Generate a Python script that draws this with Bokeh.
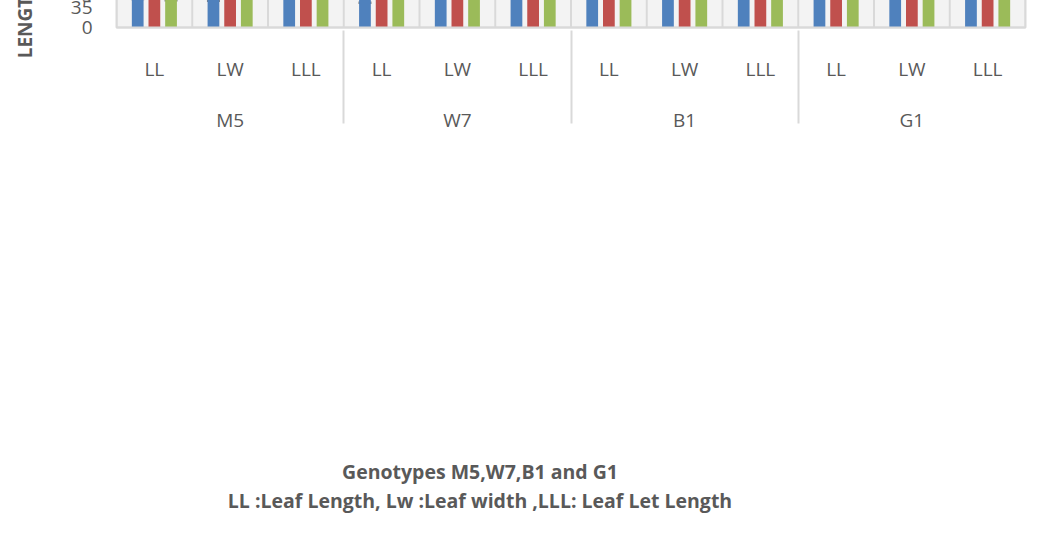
from bokeh.plotting import figure
from bokeh.layouts import column
from bokeh.models import (ColumnDataSource, FactorRange, Range1d, FixedTicker, Whisker, TeeHead,
                          Legend, LegendItem, Div)
from bokeh.transform import dodge
from bokeh.embed import file_html
from bokeh.resources import INLINE

genotypes = ["M5", "W7", "B1", "G1"]
traits = ["LL", "LW", "LLL"]
series_names = ["Dose 0", "Dose 300", "Dose 400"]

dose0 = [6.0, 5.8, 20.0, 5.8, 7.3, 25.8, 9.9, 6.6, 20.6, 7.9, 6.8, 21.4]
dose300 = [9.7, 8.0, 21.2, 9.8, 7.0, 20.9, 12.6, 6.8, 21.3, 12.1, 7.2, 24.0]
dose400 = [6.7, 7.2, 18.5, 8.0, 7.7, 24.2, 11.0, 7.2, 21.6, 10.3, 6.8, 22.6]

err0 = [1.5, 1.6, 3.4, 1.9, 1.1, 5.6, 0.9, 0.8, 2.0, 2.1, 0.9, 2.9]
err300 = [1.6, 1.1, 3.5, 1.7, 1.3, 3.7, 2.6, 0.9, 3.3, 1.9, 1.6, 4.7]
err400 = [2.4, 1.0, 3.8, 1.6, 0.9, 4.3, 1.4, 1.0, 2.8, 2.0, 0.9, 4.5]

y_ticks = [0, 5, 10, 15, 20, 25, 30, 35]
title_lines = ["Genotypes M5,W7,B1 and G1",
               "LL :Leaf Length, Lw :Leaf width ,LLL: Leaf Let Length"]

colors = ["#4F81BD", "#C0504D", "#9BBB59"]
TEXT = "#595959"
GRID = "#D9D9D9"
FONT = "Open Sans"

factors = [(g, t) for g in genotypes for t in traits]

data = dict(x=list(factors))
for k, (vals, errs) in enumerate([(dose0, err0), (dose300, err300), (dose400, err400)]):
    data[f"v{k}"] = vals
    data[f"up{k}"] = [v + e for v, e in zip(vals, errs)]
    data[f"lo{k}"] = [v - e for v, e in zip(vals, errs)]
src = ColumnDataSource(data)

YMAX = 35

p = figure(width=1035, height=437,
           x_range=FactorRange(*factors, factor_padding=0, group_padding=0,
                               subgroup_padding=0, range_padding=0),
           y_range=Range1d(0, YMAX),
           output_backend="svg", toolbar_location=None,
           min_border_left=116, min_border_right=10, min_border_top=27)
p.xgrid.visible = False
p.outline_line_color = GRID
p.outline_line_width = 2
p.background_fill_color = "#F3F3F3"
p.border_fill_color = "white"

p.ygrid.ticker = FixedTicker(ticks=y_ticks)
p.ygrid.grid_line_color = GRID
p.ygrid.grid_line_width = 2

# vertical category boundaries drawn as thin bars
cat_src = ColumnDataSource(dict(x=list(factors)))
last_src = ColumnDataSource(dict(x=[factors[-1]]))
for s, off in [(cat_src, -0.5), (last_src, 0.5)]:
    p.vbar(x=dodge("x", off, range=p.x_range), bottom=0, top=YMAX, width=0.026,
           source=s, fill_color=GRID, line_color=None)

offsets = [-0.22, 0.0, 0.22]
items = []
for k in range(3):
    r = p.vbar(x=dodge("x", offsets[k], range=p.x_range), top=f"v{k}", width=0.155,
               source=src, fill_color=colors[k], line_color=None)
    items.append(LegendItem(label=series_names[k], renderers=[r]))
    w = Whisker(source=src, base=dodge("x", offsets[k], range=p.x_range),
                upper=f"up{k}", lower=f"lo{k}", line_color="#7F7F7F", line_width=2.5,
                upper_head=TeeHead(size=13, line_color="#7F7F7F", line_width=2.5),
                lower_head=TeeHead(size=13, line_color="#7F7F7F", line_width=2.5))
    p.add_layout(w)

xa = p.xaxis[0]
xa.axis_line_color = GRID
xa.axis_line_width = 2
xa.major_tick_line_color = None
xa.minor_tick_line_color = None
xa.major_label_standoff = 22
xa.major_label_text_font = FONT
xa.major_label_text_font_size = "19px"
xa.major_label_text_color = TEXT
xa.group_text_font = FONT
xa.group_text_font_size = "19px"
xa.group_text_color = TEXT
xa.group_text_font_style = "normal"
xa.separator_line_color = GRID
xa.separator_line_width = 2

ax = p.yaxis[0]
ax.ticker = FixedTicker(ticks=y_ticks)
ax.axis_line_color = None
ax.major_tick_line_color = None
ax.minor_tick_line_color = None
ax.major_tick_out = 0
ax.major_label_standoff = 24
ax.major_label_text_font = FONT
ax.major_label_text_font_size = "19px"
ax.major_label_text_color = TEXT
ax.axis_label = "LENGTH OF LEAF CHARACTERS"
ax.axis_label_text_font = FONT
ax.axis_label_text_font_size = "19px"
ax.axis_label_text_font_style = "bold"
ax.axis_label_text_color = TEXT
ax.axis_label_standoff = 30

legend = Legend(items=items, orientation="horizontal", location="center",
                glyph_width=13, glyph_height=13, label_standoff=7, spacing=26,
                label_text_font=FONT, label_text_font_size="19px",
                label_text_color=TEXT, border_line_color=None,
                background_fill_alpha=0, padding=0, margin=12)
p.add_layout(legend, "below")

div = Div(text="<br>".join(title_lines), width=1035, height=84,
          styles={"font-family": FONT, "font-weight": "bold", "font-size": "19.5px",
                  "color": TEXT, "text-align": "center", "line-height": "29px",
                  "padding-top": "15px", "padding-right": "85px",
                  "box-sizing": "border-box", "background": "white"})

layout = column(p, div, spacing=0)

open("out.html", "w").write(file_html(layout, INLINE))
